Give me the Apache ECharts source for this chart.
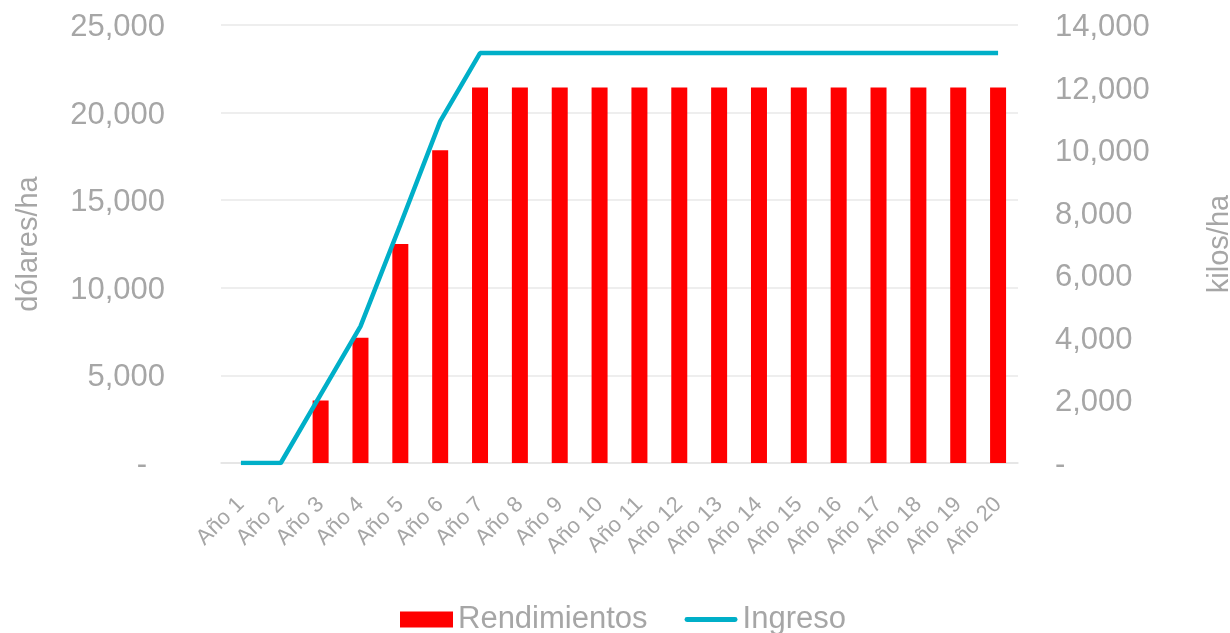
<!DOCTYPE html>
<html>
<head>
<meta charset="utf-8">
<script src="https://cdn.jsdelivr.net/npm/echarts@6/dist/echarts.min.js"></script>
<style>
html,body{margin:0;padding:0;background:#fff;}
#chart{width:1230px;height:633px;}
</style>
</head>
<body>
<div id="chart"></div>
<script>
// datos
var anios = ['Año 1','Año 2','Año 3','Año 4','Año 5','Año 6','Año 7','Año 8','Año 9','Año 10',
	'Año 11','Año 12','Año 13','Año 14','Año 15','Año 16','Año 17','Año 18','Año 19','Año 20'];
// kilos/ha (eje derecho)
var rendimientos = [0,0,2000,4000,7000,10000,12000,12000,12000,12000,
	12000,12000,12000,12000,12000,12000,12000,12000,12000,12000];
// dolares/ha (eje izquierdo)
var ingreso = [0,0,3900,7800,13600,19500,23400,23400,23400,23400,
	23400,23400,23400,23400,23400,23400,23400,23400,23400,23400];

var gris = '#a6a6a6';
var fuente = 'Liberation Sans, Arial, sans-serif';

function fmtNum(v){
	if(v === 0) return '{z|-}';
	return v.toLocaleString('en-US');
}

var chart = echarts.init(document.getElementById('chart'));
var option = {
	animation:false,
	textStyle:{fontFamily:fuente},
	grid:{left:221,right:212,top:25,bottom:170,outerBoundsMode:'none'},
	legend:{
		left:395,
		top:599,
		itemGap:37,
		itemWidth:53,
		itemHeight:16,
		data:[
			{name:'Rendimientos',icon:'rect'},
			{name:'Ingreso',icon:'path://M2.5,0L52.5,0A2.5,2.5,0,0,1,52.5,5L2.5,5A2.5,2.5,0,0,1,2.5,0Z'}
		],
		textStyle:{color:gris,fontSize:31,fontFamily:fuente}
	},
	xAxis:[{
		type:'category',
		data:anios,
		axisTick:{show:false},
		axisLine:{lineStyle:{color:'#e3e3e3',width:1.5}},
		axisLabel:{
			interval:0,
			rotate:45,
			margin:38,
			color:gris,
			fontSize:22,
			fontFamily:fuente
		}
	}],
	yAxis:[
		{
			type:'value',
			min:0,max:25000,interval:5000,
			name:'dólares/ha',
			nameLocation:'middle',
			nameRotate:90,
			nameGap:178,
			nameTextStyle:{color:gris,fontSize:29,fontFamily:fuente},
			axisLine:{show:false},
			axisTick:{show:false},
			splitLine:{lineStyle:{color:'#e8e8e8',width:1.5}},
			axisLabel:{
				margin:56,
				color:gris,
				fontSize:31,
				fontFamily:fuente,
				padding:[5,0,0,0],
				formatter:fmtNum,
				rich:{z:{color:gris,fontSize:31,fontFamily:fuente,padding:[0,18,0,0]}}
			}
		},
		{
			type:'value',
			min:0,max:14000,interval:2000,
			position:'right',
			name:'kilos/ha',
			nameLocation:'middle',
			nameRotate:90,
			nameGap:187,
			nameTextStyle:{color:gris,fontSize:29,fontFamily:fuente},
			axisLine:{show:false},
			axisTick:{show:false},
			splitLine:{show:false},
			axisLabel:{
				margin:37,
				color:gris,
				fontSize:31,
				fontFamily:fuente,
				padding:[5,0,0,0],
				formatter:fmtNum,
				rich:{z:{color:gris,fontSize:31,fontFamily:fuente}}
			}
		}
	],
	series:[
		{
			name:'Rendimientos',
			type:'bar',
			yAxisIndex:1,
			barWidth:16,
			itemStyle:{color:'#ff0000'},
			data:rendimientos
		},
		{
			name:'Ingreso',
			type:'line',
			yAxisIndex:0,
			symbol:'none',
			lineStyle:{color:'#00afc8',width:4.5},
			itemStyle:{color:'#00afc8'},
			data:ingreso
		}
	]
};
chart.setOption(option);
</script>
</body>
</html>
